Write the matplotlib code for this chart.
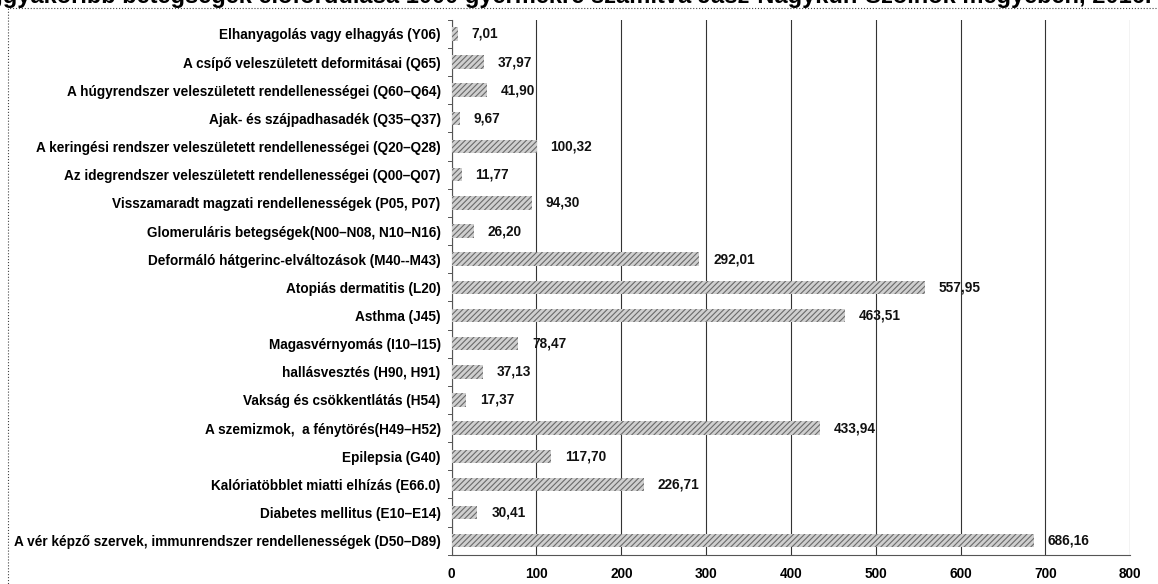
import matplotlib.pyplot as plt
from matplotlib.patches import Rectangle

plt.rcParams['font.family'] = ['Liberation Sans', 'DejaVu Sans']
plt.rcParams['hatch.linewidth'] = 0.8

categories = [
    "Elhanyagolás vagy elhagyás (Y06)",
    "A csípő veleszületett deformitásai (Q65)",
    "A húgyrendszer veleszületett rendellenességei (Q60–Q64)",
    "Ajak- és szájpadhasadék (Q35–Q37)",
    "A keringési rendszer veleszületett rendellenességei (Q20–Q28)",
    "Az idegrendszer veleszületett rendellenességei (Q00–Q07)",
    "Visszamaradt magzati rendellenességek (P05, P07)",
    "Glomeruláris betegségek(N00–N08, N10–N16)",
    "Deformáló hátgerinc-elváltozások (M40--M43)",
    "Atopiás dermatitis (L20)",
    "Asthma (J45)",
    "Magasvérnyomás (I10–I15)",
    "hallásvesztés (H90, H91)",
    "Vakság és csökkentlátás (H54)",
    "A szemizmok,  a fénytörés(H49–H52)",
    "Epilepsia (G40)",
    "Kalóriatöbblet miatti elhízás (E66.0)",
    "Diabetes mellitus (E10–E14)",
    "A vér képző szervek, immunrendszer rendellenességek (D50–D89)",
]
values = [7.01, 37.97, 41.90, 9.67, 100.32, 11.77, 94.30, 26.20, 292.01,
          557.95, 463.51, 78.47, 37.13, 17.37, 433.94, 117.70, 226.71,
          30.41, 686.16]
xticks = [0, 100, 200, 300, 400, 500, 600, 700, 800]

fig = plt.figure(figsize=(11.58, 5.84), dpi=100)
ax = fig.add_axes([0.390, 0.050, 0.586, 0.916])

pos = list(range(len(categories)))
ax.barh(pos, values, height=0.48, color='#cfcfcf', edgecolor='#6a6a6a',
        hatch='//////', linewidth=0, zorder=3)

for p, v in zip(pos, values):
    ax.annotate(f"{v:.2f}".replace('.', ','), (v, p), xytext=(10, 0),
                textcoords='offset points', va='center', ha='left',
                fontsize=9.8, fontweight='bold', color='#111111')

ax.set_ylim(len(categories) - 0.5, -0.5)
ax.set_xlim(0, 800)
ax.set_yticks(pos)
ax.set_yticklabels(categories, fontsize=9.8, fontweight='bold')
ax.set_xticks(xticks)
ax.set_xticklabels([str(t) for t in xticks], fontsize=9.8, fontweight='bold')
ax.tick_params(axis='y', length=0, pad=8)
ax.tick_params(axis='x', length=0, pad=9)

# small boundary ticks on the value axis
for b in [i - 0.5 for i in range(len(categories) + 1)]:
    ax.plot([-4, 0], [b, b], color='#555555', lw=0.7, clip_on=False)

ax.xaxis.grid(True, color='#333333', lw=0.8, zorder=0)
for s in ['top', 'right']:
    ax.spines[s].set_visible(False)
ax.spines['left'].set_color('#555555')
ax.spines['bottom'].set_color('#555555')
ax.spines['left'].set_linewidth(0.8)
ax.spines['bottom'].set_linewidth(0.8)

# outer chart border (dotted)
fig.patches.append(Rectangle((8 / 1158, -0.1), 1.2, 1 - 8 / 584 + 0.1,
                             transform=fig.transFigure, fill=False,
                             ls=':', lw=0.8, color='#444444'))

# title, mostly cut off above the picture
fig.text(1152 / 1158, 1 - 3 / 584,
         "A leggyakoribb betegségek előfordulása 1000 gyermekre számítva "
         "Jász-Nagykun-Szolnok megyében, 2016.",
         ha='right', va='baseline', fontsize=17, fontweight='bold')

fig.savefig('out.png', dpi=100)
